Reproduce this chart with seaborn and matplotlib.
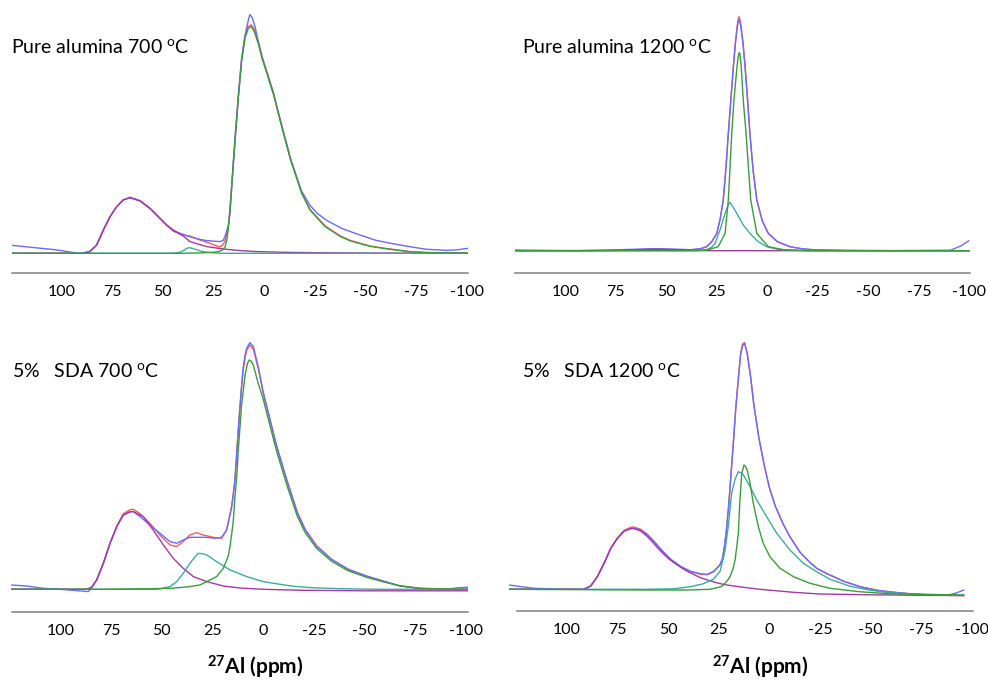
import matplotlib
matplotlib.use("Agg")
import matplotlib.pyplot as plt
import seaborn as sns

# ---------------- data: (ppm, intensity a.u.) readings ----------------
TICKS = [100, 75, 50, 25, 0, -25, -50, -75, -100]
TICK_LABELS = ["100", "75", "50", "25", "0", "-25", "-50", "-75", "-100"]
TITLES = ["Pure alumina 700 $^{o}$C", "Pure alumina 1200 $^{o}$C",
          "5%   SDA 700 $^{o}$C", "5%   SDA 1200 $^{o}$C"]
XLABEL = "$^{27}$Al (ppm)"

# Panel 1 : Pure alumina 700 C
P1_EXP = [(124.5,8),(115,6),(105,4),(100,2.7),(95,1),(90,0),(86,1.5),(82.6,8.3),(79.3,23.3),(76,36.7),
          (72.7,46.7),(69.5,53.3),(66.2,56),(61.2,52.6),(56.3,45),(53,38.3),(48.1,28.3),(44.8,22),(40,19),
          (36.6,16.5),(32,14),(28.4,12.7),(24,12),(21.8,11.7),(20.2,13),(19.4,16.7),(17.7,28),(16.9,40),
          (16.1,66),(14.5,113),(12.8,157),(11.2,194),(9.5,218),(7.9,233),(7.1,238.7),(6,236),(4.5,226),
          (3,212),(1.1,196),(-4.4,160),(-8.6,127),(-13,93),(-18.4,62),(-22.5,48),(-26,40),(-30.7,33),
          (-38,25),(-47.1,18.3),(-55,13),(-63.5,9.5),(-72,6.5),(-80,4),(-89.8,3),(-95,3.5),(-100.3,5)]
P1_FIT = [(124.5,0),(90,0),(86,1.7),(82.6,8.3),(79.3,23.3),(76,36.7),(72.7,46.7),(69.5,53.3),(66.2,56),
          (61.2,52.6),(56.3,45),(53,38.3),(48.1,28.3),(44.8,23.3),(41.5,19.5),(39.9,18),(36.6,17.3),
          (31.7,13.3),(26.7,10),(22.7,6.7),(21,7.3),(19.4,11.7),(17.7,27),(16.9,45),(16.1,67),(15.3,90),
          (14.5,112),(12.8,157),(11.2,194),(9.5,217),(7.9,227),(6.4,228.5),(5,224),(3,212),(1.1,197),
          (-4.4,161.5),(-8.6,128),(-13,94.5),(-18.4,61),(-22.5,44),(-29.9,27.5),(-37.3,17.5),(-42.2,13),
          (-52,7.3),(-60.3,4.7),(-71.8,1.7),(-80,0.8),(-100.3,0.3)]
P1_TETRA = [(124.5,0),(90,0),(86,1.7),(82.6,8.3),(79.3,23.3),(76,36.7),(72.7,46.7),(69.5,53.3),(66.2,55.5),
            (61.2,52.3),(56.3,44.7),(53,38),(48.1,28),(44.8,23),(39.9,17.3),(36.6,11.7),(32,8.8),(28.4,6.7),
            (20.2,4.3),(12,2.7),(3.7,1.7),(-10,1),(-30,0.5),(-60,0.2),(-100.3,0)]
P1_PENTA = [(124.5,0),(46,0),(42,0.8),(40,2.5),(38.5,4.5),(37.4,5.6),(36,5.3),(34,4),(31.5,2.3),(29,1.2),
            (25,0.4),(20,0),(-100.3,0)]
P1_OCTA = [(124.5,0),(40,0),(30,0.5),(24,1.2),(22,2),(20.5,3.5),(19.4,6),(18.5,13),(17.7,25),(16.9,43),
           (16.1,65),(15.3,88),(14.5,110),(12.8,155),(11.2,192),(9.5,215),(7.9,225),(6.4,226.7),(5,222),
           (3,210),(1.1,195),(-4.4,160),(-8.6,126.7),(-13,93.3),(-18.4,60),(-22.5,43.3),(-29.9,26.7),
           (-37.3,17),(-42.2,12.5),(-52,7),(-60.3,4.5),(-71.8,1.5),(-80,0.7),(-100.3,0)]

# Panel 2 : Pure alumina 1200 C
P2_EXP = [(125,0.7),(110,0.3),(95,0),(80,0.5),(65,1.5),(55,2),(45,1.5),(38,1),(33,2),(30,4),(27.5,9),
          (25,17.3),(23.3,32),(21.8,50.7),(20.5,82),(19.3,117),(18,152),(16.8,184),(15.8,207),(14.9,223),
          (14.4,229),(14,231),(13.6,229),(13.1,224),(12,207),(11,184),(9.8,152),(8.6,117),(7,80),(5.2,50.7),
          (2.5,30),(-0.5,17.3),(-5,9),(-11.2,4),(-17,2),(-23,1),(-40,0.3),(-60,0),(-80,0.3),(-90.8,0.5),
          (-95.7,4.7),(-99.8,10)]
P2_FIT = [(125,0),(80,0.3),(65,1),(55,1.5),(45,1),(38,0.8),(33,2),(30,4),(27.5,9),(25,17.3),(23.3,32),
          (21.8,50.7),(20.5,82),(19.3,117),(18,152),(16.8,184),(15.8,208),(14.9,225),(14.4,231.5),(14,234),
          (13.6,232),(13.1,226),(12,208),(11,184),(9.8,152),(8.6,117),(7,80),(5.2,50.7),(2.5,30),(-0.5,17.3),
          (-5,9),(-11.2,4),(-17,2),(-23,0.7),(-40,0.2),(-100,0)]
P2_TETRA = [(125,0),(90,0),(75,0.3),(65,1),(55,1.5),(45,1),(38,0.3),(30,0),(-100,0)]
P2_PENTA = [(125,0),(35,0),(30,1),(27.5,3.5),(25.9,7.3),(23.4,20.7),(20.9,37.3),(19.5,45),(18.5,48.3),
            (17.3,45),(15.1,37.3),(11.9,25.7),(8.6,17.3),(4.5,9),(0.3,4),(-5,1.5),(-12,0.5),(-25,0),(-100,0)]
P2_OCTA = [(125,0),(40,0),(30,0.5),(24.3,4),(20.9,17.3),(19.3,50.7),(18.4,85),(17.6,117.3),(16.5,150.7),
           (15,184),(14.4,194),(14.1,197),(13.9,198),(13.6,197),(13.4,194),(12.9,184),(11.9,150.7),
           (10.5,117.3),(9.4,85),(8.2,50.7),(5.2,17.3),(-0.5,4),(-8,1),(-20,0),(-100,0)]

# Panel 3 : 5% SDA 700 C
P3_EXP = [(124.2,4.3),(116.8,3.3),(108.6,1),(100.3,0),(92.1,-1.3),(86.3,-2.3),(84.5,2),(82.2,9.3),(78.9,26),
          (75.6,46),(72.3,62.7),(69.1,74.3),(65.8,77.5),(64.1,77.7),(61,73),(55.9,64.3),(51,56),(46,47.7),
          (42.7,46),(39.5,49.3),(36.2,52),(32.9,52),(28,52),(24,51),(20.5,52),(18.1,59.3),(16.8,71),
          (15.6,82.7),(14.8,95),(14,109),(13.2,133),(12.3,160),(11.5,183),(10.7,203),(9.9,222),(9,234),
          (8.2,241),(6.6,246.7),(4.9,242.7),(2.5,222.7),(0,197),(-2.5,176.7),(-6.6,143.3),(-11.5,110),
          (-16.8,76.7),(-20.6,60),(-26.3,43.3),(-33.7,30),(-41.9,20),(-51,13.3),(-59.2,8.3),(-67.4,3.3),
          (-77.3,0.7),(-85,0),(-92,0.5),(-96,1.5),(-101,2)]
P3_FIT = [(124.2,0),(90,0),(86.3,0.5),(84.5,2.5),(82.2,9.3),(78.9,26),(75.6,46),(72.3,63),(69.1,75.5),
          (65.8,79.5),(64.1,80),(61,76),(55.9,66),(51,54.3),(46,44.3),(42.7,42.7),(39.5,47.7),(36.2,54.3),
          (32.9,56.7),(29.6,54.3),(24.7,52),(20.5,51),(18.1,59.3),(16.8,71),(15.6,82.7),(14.8,95),(14,109),
          (13.2,133),(12.3,160),(11.5,182),(10.7,202),(9.9,219),(9,231),(8.2,239),(6.6,244.3),(4.9,240),
          (2.5,221),(0,196),(-2.5,176),(-6.6,143),(-11.5,110),(-16.8,77),(-20.6,60),(-26.3,43.5),
          (-33.7,30),(-41.9,20),(-51,13),(-59.2,8),(-67.4,3.5),(-77.3,1),(-90,0),(-101,0)]
P3_TETRA = [(124.2,0),(90,0),(86.3,0.5),(84.5,2.5),(82.2,9.3),(78.9,26),(75.6,46),(72.3,62.7),(69.1,74),
            (65.8,77.5),(64.1,77.7),(59.2,72.7),(54.3,59.3),(49.3,44.3),(44.4,31),(39.5,21),(34.5,12.7),
            (27.9,7.7),(19.7,3.3),(11.5,1.3),(0,0),(-20,-1),(-50,-1.5),(-80,-1.5),(-101,-1.5)]
P3_PENTA = [(124.2,0),(52,0),(46,2.7),(42.7,7.7),(39.5,16),(36.2,26),(34,31.5),(32.1,36),(29.5,35.5),
            (27.9,34.3),(23,27.7),(16.4,19.3),(8.2,12.7),(0,7.7),(-8.2,5),(-15,3),(-25,1.5),(-40,0.5),
            (-60,0),(-101,0)]
P3_OCTA = [(124.2,0),(80,0),(60,0.5),(45,1),(36.2,2.7),(31.3,4.3),(27.9,7.7),(23,12.7),(19.7,21),(17.3,33),
           (16.4,42.7),(15.6,55),(14.8,68),(14,92),(13.1,112),(12.3,140),(10.7,184),(9,214),(7.8,226),
           (6.9,229.3),(5.9,228),(4.9,224),(2.5,206),(0,190),(-2.5,170),(-6.6,138),(-11.5,105),(-16.8,73),
           (-20.6,57),(-26.3,41),(-33.7,28),(-41.9,18.5),(-51,12),(-59.2,7.5),(-67.4,3.5),(-77.3,1),(-101,0)]

# Panel 4 : 5% SDA 1200 C
P4_EXP = [(128.5,4.3),(122,2.5),(116,1),(105,0.3),(95,0),(91.4,0),(88.2,3.3),(84.9,12.7),(81.6,26),(78.3,41),
          (75,51),(71.7,58.3),(68.4,61),(66.8,61.3),(63.5,59.3),(60.2,54.3),(56.9,47.7),(53.6,40),(48.7,30),
          (43.8,23),(38.8,18),(33.9,15.5),(30.6,15),(27.5,18),(24.5,24),(23.2,30),(22.2,42),(21,62),
          (19.9,88),(18.8,118),(17.8,145),(16.6,180),(15.3,210),(14.2,234),(13.3,243),(12.2,246),(10.9,236),
          (9.2,212),(7.6,184),(5.1,151),(2.6,125),(0,102),(-3,83),(-6.9,65),(-10.2,52.5),(-15.2,37),(-20,27),
          (-23.4,21),(-28.6,15.5),(-36.8,8),(-45,2.5),(-53.3,-1),(-61.5,-3),(-69.7,-4.5),(-77.9,-5.5),
          (-86.2,-5.8),(-90,-5),(-92.8,-3.3),(-96.1,-0.7)]
P4_FIT = [(128.5,0),(95,0),(91.4,0),(88.2,3.3),(84.9,12.7),(81.6,26),(78.3,41),(75,51.5),(71.7,59),(68.4,62),
          (66.8,62.3),(63.5,60),(60.2,55),(56.9,48),(53.6,40),(48.7,30),(43.8,22.5),(38.8,17.5),(33.9,15),
          (30.6,14.5),(27.5,17.5),(24.5,24),(23.2,30),(22.2,42),(21,62),(19.9,88),(18.8,118),(17.8,145),
          (16.6,180),(15.3,211),(14.2,235),(13.3,245),(12.2,246.7),(10.9,236),(9.2,212),(7.6,184),(5.1,151),
          (2.6,125),(0,102),(-3,83),(-6.9,65),(-10.2,52.5),(-15.2,37),(-20,27),(-23.4,21),(-28.6,15.5),
          (-36.8,8),(-45,2.5),(-53.3,-1),(-61.5,-3),(-69.7,-4.5),(-77.9,-5.5),(-86.2,-6),(-96.1,-6.3)]
P4_TETRA = [(128.5,0),(92,0),(88.2,3.3),(84.9,12.7),(81.6,26),(78.3,41),(75,51),(71.7,58),(68.4,60.5),
            (66.8,60.7),(63.5,58.3),(60.2,52.7),(56.9,45.5),(54,39),(50,31),(47,26.5),(43,21),(40.5,18),
            (37.5,15),(33.9,11.5),(29.3,8.5),(25,6),(21,4.3),(12.8,2),(4.6,0),(-11.9,-3),(-25,-4.7),
            (-50,-5.5),(-75,-6),(-96.1,-6.3)]
P4_PENTA = [(128.5,0),(60,0),(47.4,0.5),(39.2,2.5),(32.6,5.5),(27.7,10),(24.3,18),(21.9,38),(20.2,64),
            (18.6,96),(16.9,110),(15.3,117.6),(14,116.5),(12.8,114.3),(9.5,102.6),(6.2,89.3),(1.3,72.6),
            (-3.7,56),(-10.2,39.3),(-16.8,26),(-23.4,17.6),(-30,10),(-40,3),(-50,-1),(-60,-3.5),(-75,-5),
            (-96.1,-5.7)]
P4_OCTA = [(128.5,0),(60,-0.7),(40,-0.7),(29.3,0),(24,2.5),(22.7,4.3),(21,8),(19.4,12.6),(18,20),(16.9,29.3),
           (16.1,42),(15.3,56),(14.5,89.3),(13.6,116),(12.5,124.3),(11.8,123),(10.9,119.3),(9.5,106),
           (7.9,86),(5.4,62.6),(3,46),(-0.3,32.6),(-5.3,21),(-11.9,12.6),(-20.1,6),(-30,1),(-45,-2.5),
           (-60,-4.5),(-80,-5.3),(-96.1,-5.7)]

PANEL_CURVES = [
    [P1_FIT, P1_EXP, P1_TETRA, P1_PENTA, P1_OCTA],
    [P2_FIT, P2_EXP, P2_TETRA, P2_PENTA, P2_OCTA],
    [P3_FIT, P3_EXP, P3_TETRA, P3_PENTA, P3_OCTA],
    [P4_FIT, P4_EXP, P4_TETRA, P4_PENTA, P4_OCTA],
]
CURVE_COLORS = ["#ff5a5a", "#6a6aff", "#a23aa2", "#3fa9a0", "#3a9c3a"]

# ---------------- layout (pixels) ----------------
W, H = 988, 681
# left px, right px, spine px (bottom), top px, xlim, ylim, spine bounds
LAYOUT = [
    (11.6, 468.3, 273.0, 5.0, (124.5, -100.5), (-19.7, 248.3), (124.5, -100.5)),
    (514.8, 970.3, 273.0, 5.0, (125.0, -100.5), (-22.3, 245.7), (125.0, -100.5)),
    (10.9, 468.0, 611.7, 335.0, (124.5, -101.0), (-22.4, 254.3), (124.2, -101.0)),
    (509.1, 973.4, 611.0, 335.0, (128.5, -100.8), (-21.7, 254.3), (124.7, -100.8)),
]
TITLE_POS = [(11, 53), (522, 53), (12, 377), (522, 377)]
XLABEL_POS = [(255, 667), (760, 667)]

sns.set_style("white")
plt.rcParams["font.family"] = ["Lato", "DejaVu Sans"]
plt.rcParams["mathtext.default"] = "regular"
plt.rcParams["axes.unicode_minus"] = False

fig = plt.figure(figsize=(W / 100, H / 100), dpi=100)

for (l, r, b, t, xl, yl, sb), curves in zip(LAYOUT, PANEL_CURVES):
    ax = fig.add_axes([l / W, 1 - b / H, (r - l) / W, (b - t) / H])
    for pts, col in zip(curves, CURVE_COLORS):
        xs = [p[0] for p in pts]
        ys = [p[1] for p in pts]
        sns.lineplot(x=xs, y=ys, ax=ax, color=col, linewidth=1.0, sort=False,
                     estimator=None, legend=False)
    ax.set_xlim(*xl)
    ax.set_ylim(*yl)
    ax.set_xlabel("")
    ax.set_ylabel("")
    ax.set_yticks([])
    for s in ("left", "right", "top"):
        ax.spines[s].set_visible(False)
    ax.spines["bottom"].set_color("#808080")
    ax.spines["bottom"].set_linewidth(1.1)
    ax.spines["bottom"].set_bounds(sb[0], sb[1])
    ax.set_xticks(TICKS)
    ax.set_xticklabels(TICK_LABELS)
    ax.tick_params(axis="x", direction="in", length=4, width=0.9, color="#808080",
                   pad=9, labelsize=11.5, labelcolor="black")
    ax.patch.set_alpha(0)

for (x, y), txt in zip(TITLE_POS, TITLES):
    fig.text(x / W, 1 - y / H, txt, fontsize=14, ha="left", va="baseline", color="black")

for (x, y) in XLABEL_POS:
    fig.text(x / W, 1 - y / H, XLABEL, fontsize=15, fontweight="bold", ha="center",
             va="center", color="black")

fig.savefig("out.png", dpi=100)
